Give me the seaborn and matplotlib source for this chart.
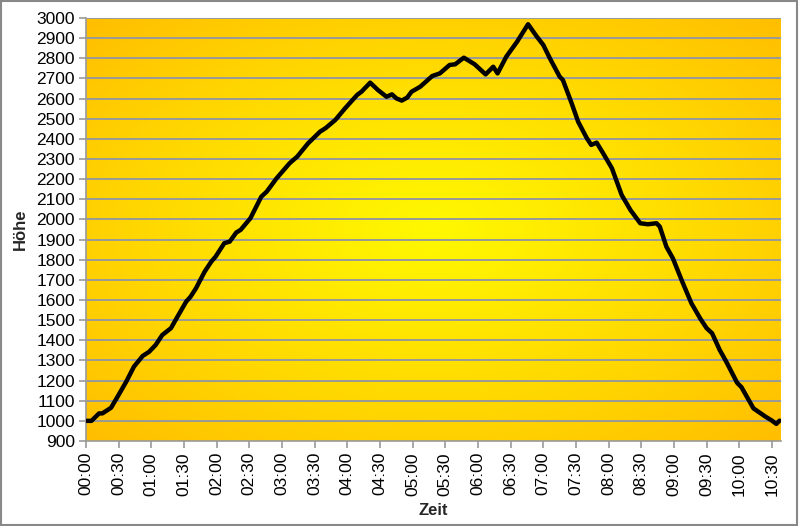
import numpy as np
import matplotlib
matplotlib.use("Agg")
import matplotlib.pyplot as plt
import seaborn as sns
from matplotlib.patches import Rectangle

# Zeit in Minuten seit Start und Höhe (m)
minuten = [0, 5, 12, 15, 23, 29, 37, 44, 52, 58, 64, 70, 78, 84, 92, 96, 101,
           109, 115, 119, 127, 132, 138, 142, 151, 161, 166, 175, 183, 187,
           194, 204, 215, 220, 229, 238, 249, 253, 261, 268, 276, 281, 285,
           290, 295, 299, 307, 318, 325, 334, 339, 347, 357, 367, 374, 378,
           386, 396, 406, 414, 420, 426, 435, 438, 446, 452, 460, 464, 469,
           475, 483, 492, 500, 509, 516, 524, 527, 533, 539, 547, 556, 564,
           570, 575, 582, 588, 598, 602, 613, 624, 630, 634, 637]
hoehe = [1000, 1000, 1037, 1037, 1065, 1120, 1195, 1269, 1322, 1343, 1377,
         1426, 1460, 1517, 1592, 1616, 1658, 1741, 1790, 1815, 1882, 1890,
         1935, 1948, 2006, 2113, 2138, 2204, 2254, 2279, 2312, 2378, 2436,
         2453, 2494, 2552, 2618, 2634, 2679, 2643, 2609, 2621, 2601, 2590,
         2605, 2634, 2659, 2712, 2725, 2767, 2770, 2803, 2770, 2720, 2758,
         2725, 2808, 2883, 2969, 2908, 2866, 2800, 2709, 2692, 2577, 2485,
         2403, 2370, 2381, 2328, 2254, 2121, 2047, 1981, 1976, 1981, 1964,
         1865, 1807, 1699, 1584, 1509, 1460, 1435, 1352, 1294, 1189, 1167,
         1062, 1021, 1001, 985, 1001]

tick_labels = ["00:00", "00:30", "01:00", "01:30", "02:00", "02:30", "03:00",
               "03:30", "04:00", "04:30", "05:00", "05:30", "06:00", "06:30",
               "07:00", "07:30", "08:00", "08:30", "09:00", "09:30", "10:00",
               "10:30"]

sns.set_style("white")
plt.rcParams["font.family"] = ["Liberation Sans", "DejaVu Sans"]

fig = plt.figure(figsize=(7.99, 5.26), dpi=100)
ax = fig.add_axes([86 / 799, 85 / 526, 695 / 799, 423 / 526])

xmax = 638.3
ymin, ymax = 900, 3000

# Hintergrund: Verlauf von gelb (Mitte) nach orange (Rand)
nx, ny = 400, 250
gx, gy = np.meshgrid(np.linspace(-1, 1, nx), np.linspace(-1, 1, ny))
r = np.clip(np.sqrt(gx ** 2 + gy ** 2) / 1.414, 0, 1)
gelb = np.array([255, 248, 0]) / 255
orange = np.array([255, 190, 0]) / 255
img = gelb[None, None, :] + (orange - gelb)[None, None, :] * r[..., None] ** 1.1
ax.imshow(img, extent=[0, xmax, ymin, ymax], aspect="auto", zorder=0,
          interpolation="bilinear")

sns.lineplot(x=minuten, y=hoehe, color="black", linewidth=3.2, ax=ax,
             zorder=3)

ax.set_xlim(0, xmax)
ax.set_ylim(ymin, ymax)
ax.set_yticks(np.arange(900, 3001, 100))
ax.set_xticks(np.arange(0, 631, 30))
ax.set_xticklabels(tick_labels, rotation=90)

for yv in np.arange(1000, 3001, 100):
    ax.axhline(yv, color="#999999", linewidth=1.4, zorder=1)

for s in ["top", "right"]:
    ax.spines[s].set_visible(False)
for s in ["left", "bottom"]:
    ax.spines[s].set_color("#999999")
    ax.spines[s].set_linewidth(1.2)
    ax.spines[s].set_zorder(2)

ax.tick_params(axis="both", direction="out", length=5, width=1.2,
               color="#999999", labelsize=12.5, labelcolor="black", pad=3)
ax.tick_params(axis="x", bottom=True)
ax.tick_params(axis="y", left=True)

ax.set_xlabel("Zeit", fontsize=12, fontweight="bold", labelpad=5)
ax.set_ylabel("Höhe", fontsize=12, fontweight="bold", labelpad=6)

fig.patches.append(Rectangle((0.001, 0.001), 0.997, 0.997,
                             transform=fig.transFigure, fill=False,
                             edgecolor="#888888", linewidth=1.5))

fig.savefig("out.png", dpi=100)
